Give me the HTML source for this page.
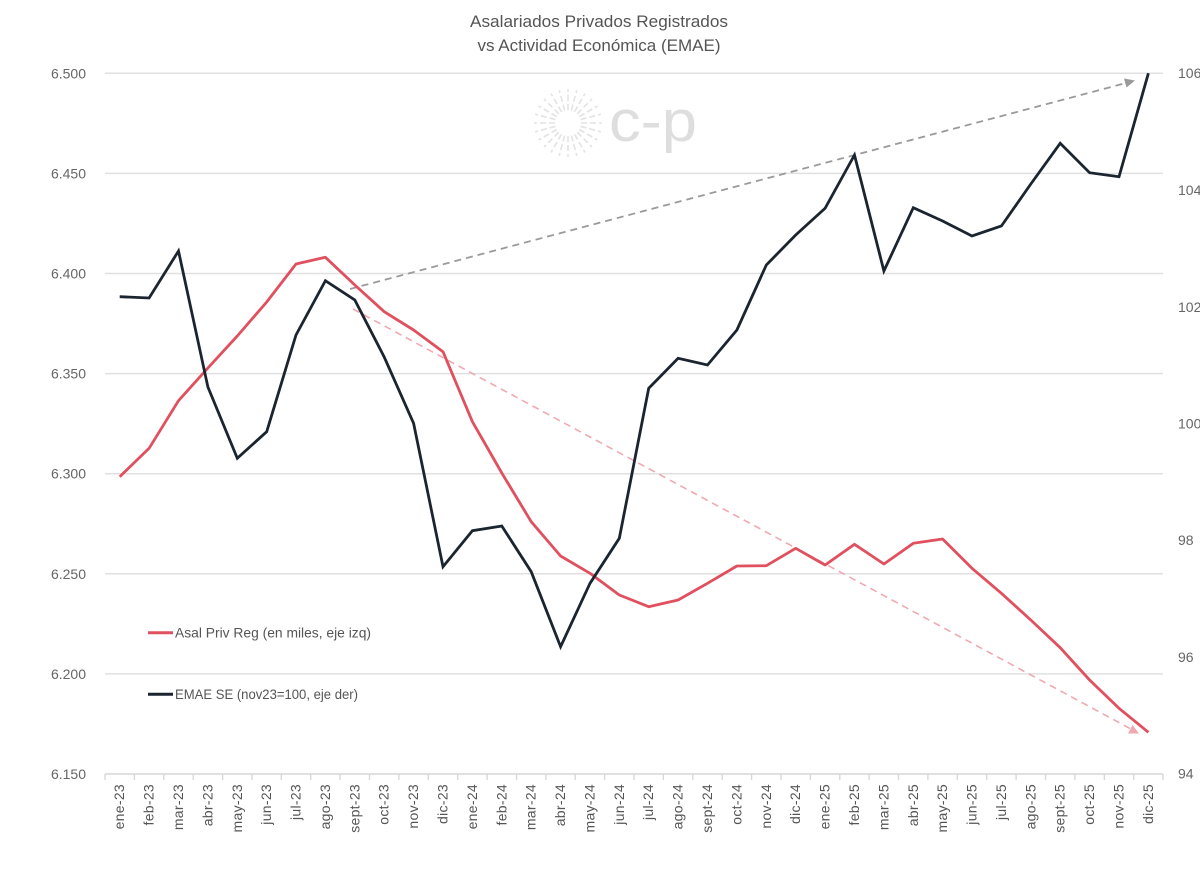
<!DOCTYPE html>
<html><head><meta charset="utf-8"><style>
html,body{margin:0;padding:0;background:#fff;}
svg{display:block;}
text{font-family:"Liberation Sans",sans-serif;}
</style></head><body>
<svg width="1200" height="870" viewBox="0 0 1200 870" xmlns="http://www.w3.org/2000/svg">
<rect width="1200" height="870" fill="#fff"/>
<!-- title -->
<text x="599" y="27" font-size="16.5" fill="#555" text-anchor="middle" textLength="258" lengthAdjust="spacingAndGlyphs">Asalariados Privados Registrados</text>
<text x="599" y="51" font-size="16.5" fill="#555" text-anchor="middle" textLength="243" lengthAdjust="spacingAndGlyphs">vs Actividad Económica (EMAE)</text>
<!-- logo -->
<g transform="translate(568,123)" stroke="#e3e3e3" stroke-width="1.6" stroke-dasharray="6 3">
<line x1="13" y1="0" x2="34" y2="0" transform="rotate(0)"/>
<line x1="13" y1="0" x2="34" y2="0" transform="rotate(15)"/>
<line x1="13" y1="0" x2="34" y2="0" transform="rotate(30)"/>
<line x1="13" y1="0" x2="34" y2="0" transform="rotate(45)"/>
<line x1="13" y1="0" x2="34" y2="0" transform="rotate(60)"/>
<line x1="13" y1="0" x2="34" y2="0" transform="rotate(75)"/>
<line x1="13" y1="0" x2="34" y2="0" transform="rotate(90)"/>
<line x1="13" y1="0" x2="34" y2="0" transform="rotate(105)"/>
<line x1="13" y1="0" x2="34" y2="0" transform="rotate(120)"/>
<line x1="13" y1="0" x2="34" y2="0" transform="rotate(135)"/>
<line x1="13" y1="0" x2="34" y2="0" transform="rotate(150)"/>
<line x1="13" y1="0" x2="34" y2="0" transform="rotate(165)"/>
<line x1="13" y1="0" x2="34" y2="0" transform="rotate(180)"/>
<line x1="13" y1="0" x2="34" y2="0" transform="rotate(195)"/>
<line x1="13" y1="0" x2="34" y2="0" transform="rotate(210)"/>
<line x1="13" y1="0" x2="34" y2="0" transform="rotate(225)"/>
<line x1="13" y1="0" x2="34" y2="0" transform="rotate(240)"/>
<line x1="13" y1="0" x2="34" y2="0" transform="rotate(255)"/>
<line x1="13" y1="0" x2="34" y2="0" transform="rotate(270)"/>
<line x1="13" y1="0" x2="34" y2="0" transform="rotate(285)"/>
<line x1="13" y1="0" x2="34" y2="0" transform="rotate(300)"/>
<line x1="13" y1="0" x2="34" y2="0" transform="rotate(315)"/>
<line x1="13" y1="0" x2="34" y2="0" transform="rotate(330)"/>
<line x1="13" y1="0" x2="34" y2="0" transform="rotate(345)"/>
</g>
<text x="609" y="141" font-size="58" fill="#dedede" textLength="88" lengthAdjust="spacingAndGlyphs">c-p</text>
<!-- gridlines -->
<g stroke="#e0e0e0" stroke-width="1.5">
<line x1="105" y1="73.3" x2="1163" y2="73.3"/>
<line x1="105" y1="173.4" x2="1163" y2="173.4"/>
<line x1="105" y1="273.5" x2="1163" y2="273.5"/>
<line x1="105" y1="373.6" x2="1163" y2="373.6"/>
<line x1="105" y1="473.7" x2="1163" y2="473.7"/>
<line x1="105" y1="573.8" x2="1163" y2="573.8"/>
<line x1="105" y1="673.9" x2="1163" y2="673.9"/>
<line x1="105" y1="774" x2="1163" y2="774" stroke="#d6d6d6"/>
</g>
<!-- ticks -->
<g stroke="#d6d6d6" stroke-width="1.3">
<line x1="105" y1="774" x2="105" y2="780"/><line x1="134.4" y1="774" x2="134.4" y2="780"/><line x1="163.8" y1="774" x2="163.8" y2="780"/><line x1="193.2" y1="774" x2="193.2" y2="780"/><line x1="222.6" y1="774" x2="222.6" y2="780"/><line x1="252" y1="774" x2="252" y2="780"/><line x1="281.3" y1="774" x2="281.3" y2="780"/><line x1="310.7" y1="774" x2="310.7" y2="780"/><line x1="340.1" y1="774" x2="340.1" y2="780"/><line x1="369.5" y1="774" x2="369.5" y2="780"/><line x1="398.9" y1="774" x2="398.9" y2="780"/><line x1="428.3" y1="774" x2="428.3" y2="780"/><line x1="457.7" y1="774" x2="457.7" y2="780"/><line x1="487.1" y1="774" x2="487.1" y2="780"/><line x1="516.5" y1="774" x2="516.5" y2="780"/><line x1="545.9" y1="774" x2="545.9" y2="780"/><line x1="575.2" y1="774" x2="575.2" y2="780"/><line x1="604.6" y1="774" x2="604.6" y2="780"/><line x1="634" y1="774" x2="634" y2="780"/><line x1="663.4" y1="774" x2="663.4" y2="780"/><line x1="692.8" y1="774" x2="692.8" y2="780"/><line x1="722.2" y1="774" x2="722.2" y2="780"/><line x1="751.6" y1="774" x2="751.6" y2="780"/><line x1="781" y1="774" x2="781" y2="780"/><line x1="810.4" y1="774" x2="810.4" y2="780"/><line x1="839.8" y1="774" x2="839.8" y2="780"/><line x1="869.1" y1="774" x2="869.1" y2="780"/><line x1="898.5" y1="774" x2="898.5" y2="780"/><line x1="927.9" y1="774" x2="927.9" y2="780"/><line x1="957.3" y1="774" x2="957.3" y2="780"/><line x1="986.7" y1="774" x2="986.7" y2="780"/><line x1="1016.1" y1="774" x2="1016.1" y2="780"/><line x1="1045.5" y1="774" x2="1045.5" y2="780"/><line x1="1074.9" y1="774" x2="1074.9" y2="780"/><line x1="1104.3" y1="774" x2="1104.3" y2="780"/><line x1="1133.7" y1="774" x2="1133.7" y2="780"/><line x1="1163" y1="774" x2="1163" y2="780"/>
</g>
<!-- left axis labels -->
<g font-size="14" fill="#666" text-anchor="end">
<text x="86" y="78.3">6.500</text>
<text x="86" y="178.4">6.450</text>
<text x="86" y="278.5">6.400</text>
<text x="86" y="378.6">6.350</text>
<text x="86" y="478.7">6.300</text>
<text x="86" y="578.8">6.250</text>
<text x="86" y="678.9">6.200</text>
<text x="86" y="779">6.150</text>
</g>
<!-- right axis labels -->
<g font-size="14" fill="#666">
<text x="1178" y="78">106</text>
<text x="1178" y="195">104</text>
<text x="1178" y="312">102</text>
<text x="1178" y="428.5">100</text>
<text x="1178" y="545">98</text>
<text x="1178" y="662">96</text>
<text x="1178" y="778.5">94</text>
</g>
<!-- x labels -->
<g font-size="14" fill="#555" text-anchor="end" letter-spacing="0.3">
<text transform="translate(124.2,784) rotate(-90)">ene-23</text>
<text transform="translate(153.6,784) rotate(-90)">feb-23</text>
<text transform="translate(183,784) rotate(-90)">mar-23</text>
<text transform="translate(212.4,784) rotate(-90)">abr-23</text>
<text transform="translate(241.8,784) rotate(-90)">may-23</text>
<text transform="translate(271.2,784) rotate(-90)">jun-23</text>
<text transform="translate(300.5,784) rotate(-90)">jul-23</text>
<text transform="translate(329.9,784) rotate(-90)">ago-23</text>
<text transform="translate(359.3,784) rotate(-90)">sept-23</text>
<text transform="translate(388.7,784) rotate(-90)">oct-23</text>
<text transform="translate(418.1,784) rotate(-90)">nov-23</text>
<text transform="translate(447.5,784) rotate(-90)">dic-23</text>
<text transform="translate(476.9,784) rotate(-90)">ene-24</text>
<text transform="translate(506.3,784) rotate(-90)">feb-24</text>
<text transform="translate(535.7,784) rotate(-90)">mar-24</text>
<text transform="translate(565.1,784) rotate(-90)">abr-24</text>
<text transform="translate(594.5,784) rotate(-90)">may-24</text>
<text transform="translate(623.8,784) rotate(-90)">jun-24</text>
<text transform="translate(653.2,784) rotate(-90)">jul-24</text>
<text transform="translate(682.6,784) rotate(-90)">ago-24</text>
<text transform="translate(712,784) rotate(-90)">sept-24</text>
<text transform="translate(741.4,784) rotate(-90)">oct-24</text>
<text transform="translate(770.8,784) rotate(-90)">nov-24</text>
<text transform="translate(800.2,784) rotate(-90)">dic-24</text>
<text transform="translate(829.6,784) rotate(-90)">ene-25</text>
<text transform="translate(859,784) rotate(-90)">feb-25</text>
<text transform="translate(888.4,784) rotate(-90)">mar-25</text>
<text transform="translate(917.8,784) rotate(-90)">abr-25</text>
<text transform="translate(947.1,784) rotate(-90)">may-25</text>
<text transform="translate(976.5,784) rotate(-90)">jun-25</text>
<text transform="translate(1005.9,784) rotate(-90)">jul-25</text>
<text transform="translate(1035.3,784) rotate(-90)">ago-25</text>
<text transform="translate(1064.7,784) rotate(-90)">sept-25</text>
<text transform="translate(1094.1,784) rotate(-90)">oct-25</text>
<text transform="translate(1123.5,784) rotate(-90)">nov-25</text>
<text transform="translate(1152.9,784) rotate(-90)">dic-25</text>
</g>
<!-- trend dashed lines -->
<line x1="350" y1="289" x2="1126" y2="83" stroke="#9a9a9a" stroke-width="1.8" stroke-dasharray="7 5"/>
<polygon points="1135,80.5 1124,78.5 1126.5,87.5" fill="#9a9a9a"/>
<line x1="353" y1="309" x2="1130" y2="728.5" stroke="#f0a9b1" stroke-width="1.6" stroke-dasharray="7 5"/>
<polygon points="1139,733.5 1128,733.5 1132.5,725" fill="#f0a9b1"/>
<!-- red series -->
<polyline fill="none" stroke="#e0505e" stroke-width="2.8" stroke-linejoin="round" points="119.7,476.7 149.1,448.3 178.5,400.7 207.9,368 237.3,336 266.7,302 296,264 325.4,257.3 354.8,285 384.2,311.7 413.6,330 443,351.7 472.4,421.7 501.8,473 531.2,521.7 560.6,556 590,573.3 619.3,595 648.7,606.7 678.1,600 707.5,583.3 736.9,566 766.3,565.7 795.7,548.3 825.1,565 854.5,544.3 883.9,564 913.3,543.3 942.6,539 972,568.3 1001.4,593.3 1030.8,620 1060.2,647.7 1089.6,680 1119,708.3 1148.4,732.3"/>
<!-- black series -->
<polyline fill="none" stroke="#1b2530" stroke-width="2.8" stroke-linejoin="miter" points="119.7,296.7 149.1,298 178.5,251 207.9,387 237.3,458.3 266.7,431.7 296,335 325.4,280.7 354.8,300 384.2,357 413.6,423.3 443,566.7 472.4,530.7 501.8,526 531.2,571.7 560.6,646.7 590,583.3 619.3,538.3 648.7,388.3 678.1,358.3 707.5,365 736.9,330 766.3,265 795.7,235 825.1,208.3 854.5,155 883.9,271 913.3,207.7 942.6,221 972,236 1001.4,226 1030.8,184 1060.2,143.3 1089.6,172.7 1119,176.7 1148.4,73.3"/>
<!-- legend -->
<line x1="148" y1="632.7" x2="173" y2="632.7" stroke="#e0505e" stroke-width="3"/>
<text x="175" y="637.5" font-size="14" fill="#555" textLength="196" lengthAdjust="spacingAndGlyphs">Asal Priv Reg (en miles, eje izq)</text>
<line x1="148" y1="694.3" x2="173" y2="694.3" stroke="#1b2530" stroke-width="3"/>
<text x="175" y="699" font-size="14" fill="#555" textLength="183" lengthAdjust="spacingAndGlyphs">EMAE SE (nov23=100, eje der)</text>
</svg>
</body></html>
